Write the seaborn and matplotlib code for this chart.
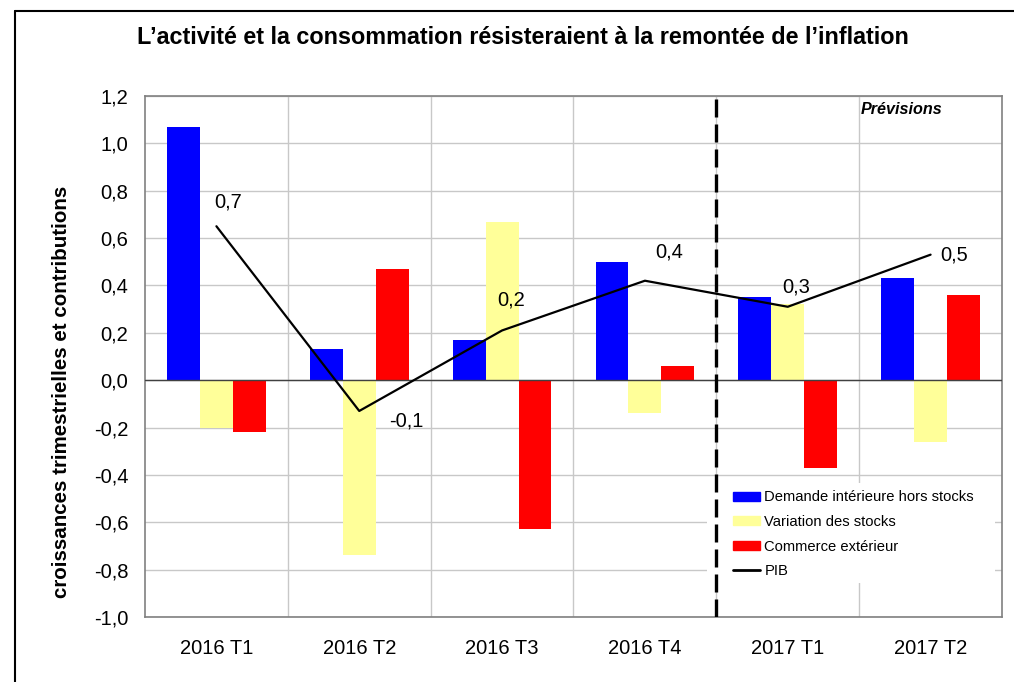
import numpy as np
import pandas as pd
import matplotlib
matplotlib.use("Agg")
import matplotlib.pyplot as plt
import seaborn as sns
from matplotlib.lines import Line2D
from matplotlib.patches import Rectangle

# ---- data ----
quarters = ["2016 T1", "2016 T2", "2016 T3", "2016 T4", "2017 T1", "2017 T2"]
demande = [1.07, 0.13, 0.17, 0.50, 0.35, 0.43]
stocks = [-0.20, -0.74, 0.67, -0.14, 0.32, -0.26]
commerce = [-0.22, 0.47, -0.63, 0.06, -0.37, 0.36]
pib = [0.65, -0.13, 0.21, 0.42, 0.31, 0.53]
series_names = ["Demande intérieure hors stocks", "Variation des stocks", "Commerce extérieur"]
pib_name = "PIB"
title = "L\u2019activité et la consommation résisteraient à la remontée de l\u2019inflation"
ylabel = "croissances trimestrielles et contributions"
forecast_label = "Prévisions"
yticks = [-1.0, -0.8, -0.6, -0.4, -0.2, 0.0, 0.2, 0.4, 0.6, 0.8, 1.0, 1.2]

# label offsets in pixels (dx from point to label left, dy from point to label centre; +down)
label_offsets = [(-2, -24), (30, 10), (-5, -30), (10, -29), (-5, -20), (10, 0)]

df = pd.DataFrame({
    "trimestre": quarters * 3,
    "serie": [series_names[0]] * 6 + [series_names[1]] * 6 + [series_names[2]] * 6,
    "valeur": demande + stocks + commerce,
})

sns.set_theme(style="white")
plt.rcParams["font.family"] = ["Liberation Sans", "DejaVu Sans"]
plt.rcParams["text.color"] = "black"
plt.rcParams["xtick.color"] = "black"
plt.rcParams["ytick.color"] = "black"

W, H = 1014, 682
fig = plt.figure(figsize=(W / 100, H / 100), dpi=100)
ax = fig.add_axes([145 / W, 1 - 617 / H, (1002 - 145) / W, (617 - 96) / H])

def px_to_axes(x, y):
    return (x - 145) / (1002 - 145), (617 - y) / (617 - 96)

colors = ["#0000FF", "#FFFF99", "#FF0000"]
sns.barplot(data=df, x="trimestre", y="valeur", hue="serie", hue_order=series_names,
            order=quarters, palette=colors, width=0.69, saturation=1, ax=ax,
            linewidth=0, zorder=3)
if ax.get_legend() is not None:
    ax.get_legend().remove()

xpos = np.arange(len(quarters))
sns.lineplot(x=xpos, y=pib, color="black", linewidth=1.6, ax=ax, zorder=4, legend=False)

ax.set_ylim(-1.0, 1.2)
ax.set_xlim(-0.5, len(quarters) - 0.5)
ax.set_yticks(yticks)
ax.set_yticklabels([f"{v:.1f}".replace(".", ",") for v in yticks])
ax.set_xlabel("")
ax.set_ylabel("")
ax.tick_params(axis="y", length=0, pad=12, labelsize=14.5, labelcolor="black")
ax.tick_params(axis="x", length=0, pad=16, labelsize=14.5, labelcolor="black")

# grid
for y in yticks:
    ax.axhline(y, color="#c8c8c8", lw=1, zorder=1)
for xb in np.arange(0.5, len(quarters) - 0.5, 1):
    ax.axvline(xb, color="#c8c8c8", lw=1, zorder=1)
ax.axhline(0, color="#404040", lw=1, zorder=3.5)

for s in ax.spines.values():
    s.set_visible(True)
    s.set_color("#808080")
    s.set_linewidth(1.2)

# forecast separator
ax.axvline(3.5, color="black", lw=2.4, linestyle=(0, (5.4, 2.1)), zorder=6)

# PIB labels
for i, (v, (dx, dy)) in enumerate(zip(pib, label_offsets)):
    ax.annotate(f"{v:.1f}".replace(".", ","), xy=(i, v), xytext=(dx * 0.72, -dy * 0.72),
                textcoords="offset points", ha="left", va="center", fontsize=14.5,
                color="black", zorder=7)

fx, fy = px_to_axes(861, 109)
ax.text(fx, fy, forecast_label, transform=ax.transAxes, fontsize=11.6,
        fontweight="bold", fontstyle="italic", ha="left", va="center")

# legend background area
bx0, by0 = px_to_axes(707, 583)
bx1, by1 = px_to_axes(995, 483)
ax.add_patch(Rectangle((bx0, by0), bx1 - bx0, by1 - by0, transform=ax.transAxes,
                       facecolor="white", edgecolor="none", zorder=4.5))

handles = [plt.Rectangle((0, 0), 1, 1, color=c) for c in colors]
handles.append(Line2D([0], [0], color="black", lw=2))
lx, ly = px_to_axes(724, 587)
leg = ax.legend(handles, series_names + [pib_name], loc="lower left",
                bbox_to_anchor=(lx, ly), borderaxespad=0, frameon=False,
                fontsize=10.6, handlelength=1.85, handleheight=0.55, handletextpad=0.3,
                labelspacing=0.72, borderpad=0.6)
leg.set_zorder(5)

fig.suptitle(title, x=523 / W, y=1 - 37 / H, fontsize=16.8, fontweight="bold",
             va="center", color="black")
fig.text(62 / W, 1 - 392 / H, ylabel, rotation=90, fontsize=14.8, fontweight="bold",
         ha="center", va="center", color="black")

# outer frame (left and top edges)
fig.add_artist(Line2D([15 / W, 15 / W], [0, 1 - 11 / H], color="black", lw=1.5))
fig.add_artist(Line2D([15 / W, 1], [1 - 11 / H, 1 - 11 / H], color="black", lw=1.5))

fig.savefig("out.png", dpi=100)
